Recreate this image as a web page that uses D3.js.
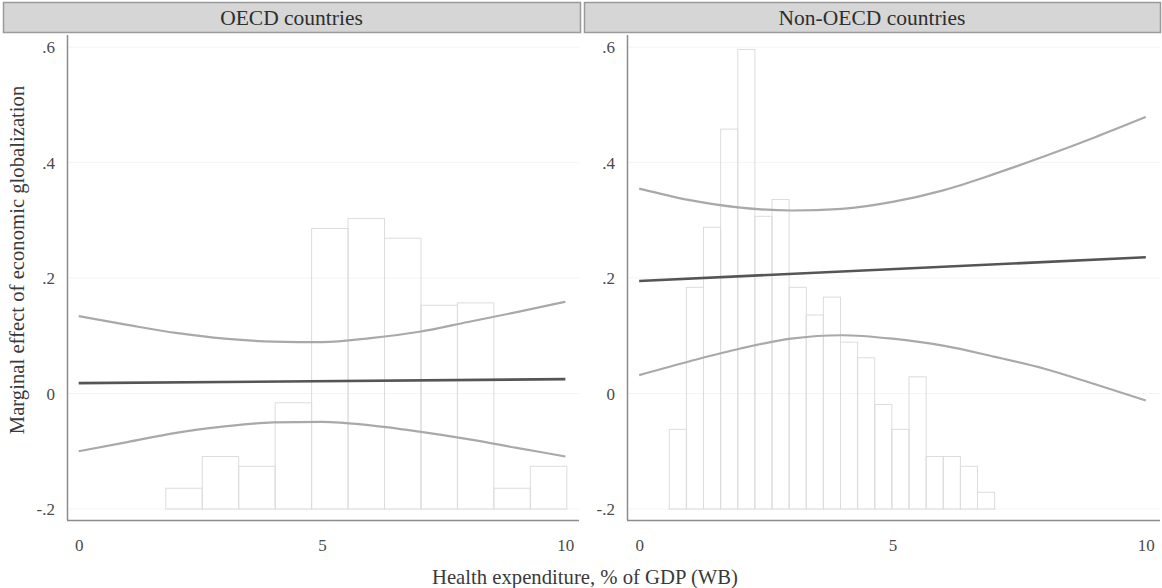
<!DOCTYPE html>
<html>
<head>
<meta charset="utf-8">
<script src="https://cdn.jsdelivr.net/npm/d3@7"></script>
<style>
  html, body { margin: 0; padding: 0; background: #fff; }
  svg { display: block; }
  text { font-family: "Liberation Serif", "DejaVu Serif", serif; }
</style>
</head>
<body>
<svg id="chart" width="1162" height="588"></svg>
<script>
// ---- data ----
const panelTitles = ["OECD countries", "Non-OECD countries"];
const xTicks = [0, 5, 10];
const yTicks = [-0.2, 0, 0.2, 0.4, 0.6];
const yTickLabels = ["-.2", "0", ".2", ".4", ".6"];
const xTitle = "Health expenditure, % of GDP (WB)";
const yTitle = "Marginal effect of economic globalization";

const ciX = [0, 1, 2, 3, 4, 5, 6, 7, 8, 9, 10];
const effectX = [0, 10];

const oecdEffect = [0.018, 0.025];
const oecdUpper = [0.134, 0.119, 0.105, 0.095, 0.090, 0.089, 0.096, 0.107, 0.124, 0.141, 0.159];
const oecdLower = [-0.100, -0.084, -0.068, -0.057, -0.050, -0.049, -0.055, -0.066, -0.079, -0.094, -0.109];

const nonEffect = [0.195, 0.236];
const nonUpper = [0.355, 0.335, 0.322, 0.317, 0.320, 0.332, 0.352, 0.380, 0.411, 0.444, 0.479];
const nonLower = [0.032, 0.056, 0.078, 0.095, 0.101, 0.095, 0.083, 0.064, 0.043, 0.016, -0.012];

// histogram: first bin edge, bin width, bar tops (in y-axis units, base at -.2)
const oecdHistStart = 1.79;
const oecdHistWidth = 0.749;
const oecdHistTops = [-0.164, -0.109, -0.126, -0.016, 0.286, 0.303, 0.269, 0.153, 0.157, -0.164, -0.126];

const nonHistStart = 0.594;
const nonHistWidth = 0.338;
const nonHistTops = [-0.062, 0.184, 0.288, 0.458, 0.596, 0.307, 0.336, 0.184, 0.136, 0.167, 0.089, 0.062, -0.019, -0.062, 0.029, -0.109, -0.109, -0.126, -0.171];
const histBase = -0.2;

// ---- layout ----
const svg = d3.select("#chart");
const plotTop = 35, plotBottom = 520;
const xDomain = [-0.24, 10.28];
const yDomain = [-0.219, 0.621];

const panels = [
  { title: panelTitles[0], strip: [3, 580], range: [67, 579], eff: oecdEffect, up: oecdUpper, lo: oecdLower,
    hStart: oecdHistStart, hW: oecdHistWidth, hTops: oecdHistTops },
  { title: panelTitles[1], strip: [584, 1160], range: [627, 1160], eff: nonEffect, up: nonUpper, lo: nonLower,
    hStart: nonHistStart, hW: nonHistWidth, hTops: nonHistTops }
];

const y = d3.scaleLinear().domain(yDomain).range([plotBottom, plotTop]);
const FONT = "Liberation Serif, DejaVu Serif, serif";

panels.forEach((p) => {
  const x = d3.scaleLinear().domain(xDomain).range(p.range);
  const g = svg.append("g");

  // header strip
  g.append("rect")
    .attr("x", p.strip[0] + 0.5).attr("y", 2.5)
    .attr("width", p.strip[1] - p.strip[0]).attr("height", 30)
    .attr("fill", "#d6d6d6").attr("stroke", "#9a9a9a").attr("stroke-width", 1.5);
  g.append("text")
    .attr("x", (p.strip[0] + p.strip[1]) / 2).attr("y", 25)
    .attr("text-anchor", "middle").attr("font-size", 21.5).attr("fill", "#2e2e2e")
    .text(p.title);

  // faint gridlines
  g.selectAll("line.grid").data(yTicks).enter().append("line")
    .attr("class", "grid")
    .attr("x1", p.range[0]).attr("x2", p.range[1])
    .attr("y1", d => y(d)).attr("y2", d => y(d))
    .attr("stroke", "#f4f4f4").attr("stroke-width", 1);

  // histogram
  g.selectAll("rect.bar").data(p.hTops).enter().append("rect")
    .attr("class", "bar")
    .attr("x", (d, i) => x(p.hStart + i * p.hW))
    .attr("width", (d, i) => x(p.hStart + (i + 1) * p.hW) - x(p.hStart + i * p.hW))
    .attr("y", d => y(d))
    .attr("height", d => y(histBase) - y(d))
    .attr("fill", "none").attr("stroke", "#dcdcdc").attr("stroke-width", 1);

  // CI lines
  const ciLine = d3.line().x((d, i) => x(ciX[i])).y(d => y(d)).curve(d3.curveMonotoneX);
  [p.up, p.lo].forEach(arr => {
    g.append("path").datum(arr).attr("d", ciLine)
      .attr("fill", "none").attr("stroke", "#a9a9a9").attr("stroke-width", 2.2);
  });
  const effLine = d3.line().x((d, i) => x(effectX[i])).y(d => y(d));
  g.append("path").datum(p.eff).attr("d", effLine)
    .attr("fill", "none").attr("stroke", "#555").attr("stroke-width", 2.6);

  // axes
  const yAxis = d3.axisLeft(y).tickValues(yTicks).tickFormat((d, i) => yTickLabels[i]).tickSize(0).tickPadding(12);
  const ya = g.append("g").attr("transform", `translate(${p.range[0]},0)`).call(yAxis);
  ya.attr("font-family", FONT);
  ya.select(".domain").attr("stroke", "#8c8c8c").attr("stroke-width", 1.5)
    .attr("d", `M0.5,${plotTop}V${plotBottom}`);
  ya.selectAll("text").attr("font-size", 17).attr("fill", "#4a4a4a");

  const xAxis = d3.axisBottom(x).tickValues(xTicks).tickFormat(d3.format("d")).tickSize(0).tickPadding(19);
  const xa = g.append("g").attr("transform", `translate(0,${plotBottom})`).call(xAxis);
  xa.attr("font-family", FONT);
  xa.select(".domain").attr("stroke", "#8c8c8c").attr("stroke-width", 1.5)
    .attr("d", `M${p.range[0]},0.5H${p.range[1]}`);
  xa.selectAll("text").attr("font-size", 17).attr("fill", "#4a4a4a");
});

// axis titles
svg.append("text")
  .attr("x", 585).attr("y", 584)
  .attr("text-anchor", "middle").attr("font-size", 20.7).attr("fill", "#3a3a3a")
  .text(xTitle);
svg.append("text")
  .attr("transform", "translate(24,260) rotate(-90)")
  .attr("text-anchor", "middle").attr("font-size", 20.7).attr("fill", "#3a3a3a")
  .text(yTitle);
</script>
</body>
</html>
